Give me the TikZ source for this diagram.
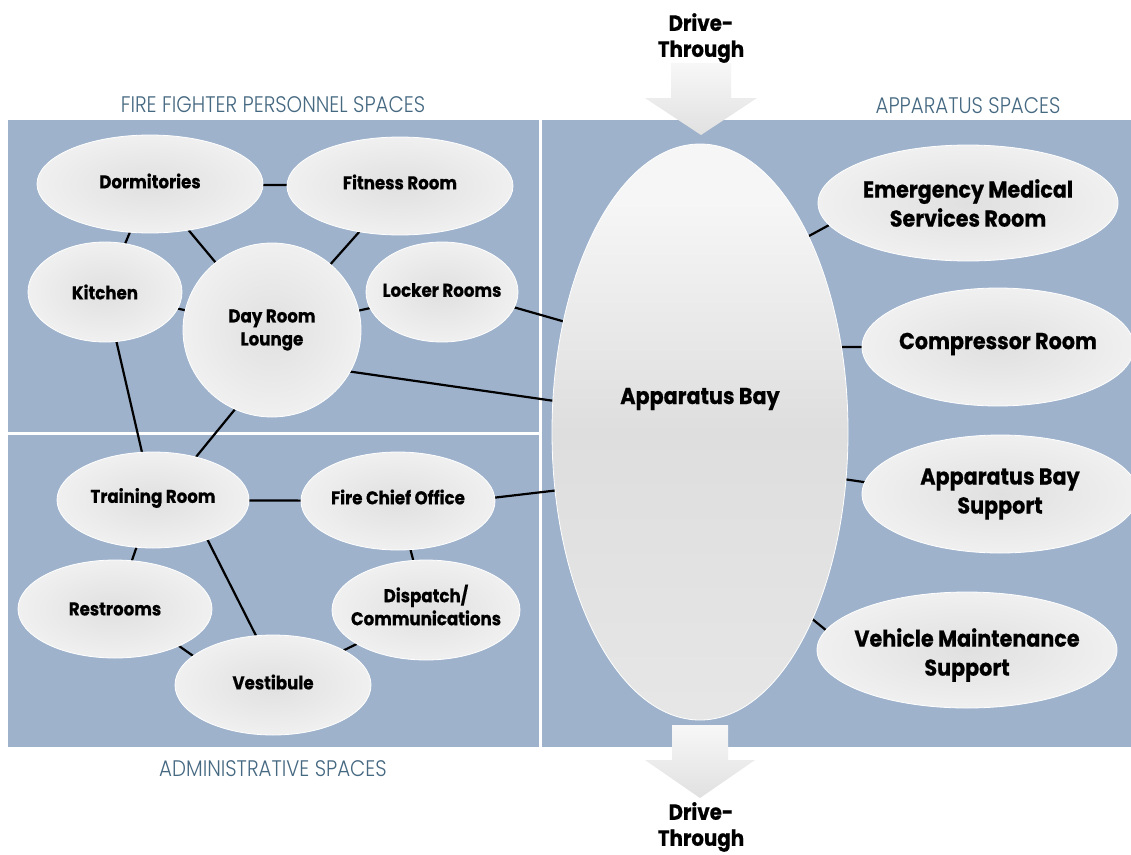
\documentclass[tikz,border=0pt]{standalone}
\usepackage{fontspec}
\setmainfont{Poppins}
\newfontfamily\labfont{Poppins}[FakeStretch=0.9, BoldFeatures={FakeBold=0.6}]
\newfontfamily\titlefont{Poppins Light}[FakeStretch=0.88]
\usetikzlibrary{shapes.geometric}
\pgfdeclarelayer{bg}
\pgfdeclarelayer{mid}
\pgfsetlayers{bg,mid,main}
\definecolor{panel}{RGB}{158,178,204}
\definecolor{ttlc}{RGB}{70,105,130}
\definecolor{ellin}{RGB}{224,224,224}
\definecolor{ellout}{RGB}{240,240,240}
\definecolor{bayA}{RGB}{246,246,246}
\definecolor{bayB}{RGB}{222,222,222}
\definecolor{bayC}{RGB}{232,232,232}
\pgfdeclareverticalshading{bayshade}{100bp}{color(0bp)=(bayC); color(20bp)=(bayC); color(50bp)=(bayB); color(70bp)=(bayA); color(100bp)=(bayA)}
\begin{document}
\begin{tikzpicture}[x=1pt,y=-1pt,
  room/.style={ellipse, inner sep=0pt, outer sep=0pt, shading=radial,
    inner color=ellin, outer color=ellout, draw=white, line width=0.8pt},
  lbl/.style={font=\labfont\fontsize{18.5}{23}\selectfont\bfseries, align=center, inner sep=0pt},
  big/.style={font=\labfont\fontsize{23}{29}\selectfont\bfseries, align=center, inner sep=0pt},
  drv/.style={font=\labfont\fontsize{22}{26}\selectfont\bfseries, align=center, inner sep=0pt},
  ttl/.style={font=\titlefont\fontsize{22.5}{24}\selectfont, text=ttlc, inner sep=0pt},
  conn/.style={line width=2.2pt, black},
  arrowfill/.style={top color=gray!6, bottom color=gray!24, draw=none}]
\useasboundingbox (0,0) rectangle (1131,854);
\begin{pgfonlayer}{bg}
\fill[white] (0,0) rectangle (1131,854);
\fill[panel] (8,120) rectangle (1131,747);
\fill[white] (538.5,120) rectangle (542,747);
\fill[white] (8,431.5) rectangle (538.5,435);
\end{pgfonlayer}

% titles
\node[ttl] (t1) at (273,105) {FIRE FIGHTER PERSONNEL SPACES};
\node[ttl] (t2) at (968,106) {APPARATUS SPACES};
\node[ttl] (t3) at (273,769) {ADMINISTRATIVE SPACES};

% drive-through arrows
\shade[arrowfill] (671,63) -- (731,63) -- (731,98) -- (757,98) -- (701,135) -- (645,98) -- (671,98) -- cycle;
\shade[arrowfill] (672,725) -- (728,725) -- (728,760) -- (755,760) -- (700,798) -- (645,760) -- (672,760) -- cycle;
\node[drv, anchor=north] (dtop) at (701,13) {Drive-\\Through};
\node[drv, anchor=south] (dbot) at (701,852) {Drive-\\Through};

% personnel spaces
\node[room, minimum width=226, minimum height=98, label={[lbl,yshift=3]center:Dormitories}] (dorm) at (150,184) {};
\node[room, minimum width=226, minimum height=98, label={[lbl,yshift=4]center:Fitness Room}] (fit) at (400,186) {};
\node[room, minimum width=154, minimum height=100, label={[lbl]center:Kitchen}] (kit) at (105,292) {};
\node[room, minimum width=178, minimum height=174, label={[lbl]center:Day Room\\Lounge}] (day) at (272,330) {};
\node[room, minimum width=152, minimum height=100, label={[lbl,yshift=2]center:Locker Rooms}] (lock) at (442,292) {};

% administrative spaces
\node[room, minimum width=192, minimum height=96, label={[lbl,yshift=2]center:Training Room}] (train) at (153,500) {};
\node[room, minimum width=194, minimum height=98, label={[lbl,yshift=4]center:Fire Chief Office}] (chief) at (398,501) {};
\node[room, minimum width=194, minimum height=98, label={[lbl]center:Restrooms}] (rest) at (115,609) {};
\node[room, minimum width=196, minimum height=100, label={[lbl,yshift=3]center:Vestibule}] (vest) at (273,685) {};
\node[room, minimum width=188, minimum height=100, label={[lbl,yshift=5]center:Dispatch/\\Communications}] (disp) at (426,610) {};

% apparatus spaces
\node[ellipse, inner sep=0pt, outer sep=0pt, minimum width=296, minimum height=576,
  shading=bayshade, draw=white, line width=0.8pt,
  label={[big,yshift=33]center:Apparatus Bay}] (bay) at (700,432) {};
\node[room, minimum width=300, minimum height=116, label={[big]center:Emergency Medical\\Services Room}] (ems) at (968,203) {};
\node[room, minimum width=272, minimum height=118, label={[big,yshift=3]center:Compressor Room}] (comp) at (998,347) {};
\node[room, minimum width=276, minimum height=118, label={[big]center:Apparatus Bay\\Support}] (abs) at (1000,494) {};
\node[room, minimum width=300, minimum height=116, label={[big,yshift=-5]center:Vehicle Maintenance\\Support}] (veh) at (967,650) {};

% connectors
\begin{pgfonlayer}{mid}
\draw[conn] (dorm) -- (fit);
\draw[conn] (dorm) -- (kit);
\draw[conn] (dorm) -- (day);
\draw[conn] (fit) -- (day);
\draw[conn] (kit) -- (day);
\draw[conn] (lock) -- (day);
\draw[conn] (kit) -- (train);
\draw[conn] (day.245) -- (train.45);
\draw[conn] (lock.-12) -- (bay.141);
\draw[conn] (day.-28) -- (bay.168.5);
\draw[conn] (train) -- (chief);
\draw[conn] (chief.2) -- (bay.202.5);
\draw[conn] (train) -- (rest);
\draw[conn] (train.-36.5) -- (vest.109);
\draw[conn] (rest.-30.7) -- (vest.160.7);
\draw[conn] (chief) -- (disp);
\draw[conn] (disp) -- (vest);
\draw[conn] (bay.61.5) -- (ems.189.7);
\draw[conn] (bay.31.3) -- (comp.180);
\draw[conn] (bay.-18.7) -- (abs.175);
\draw[conn] (bay.-59.6) -- (veh.172);
\end{pgfonlayer}
\end{tikzpicture}
\end{document}
